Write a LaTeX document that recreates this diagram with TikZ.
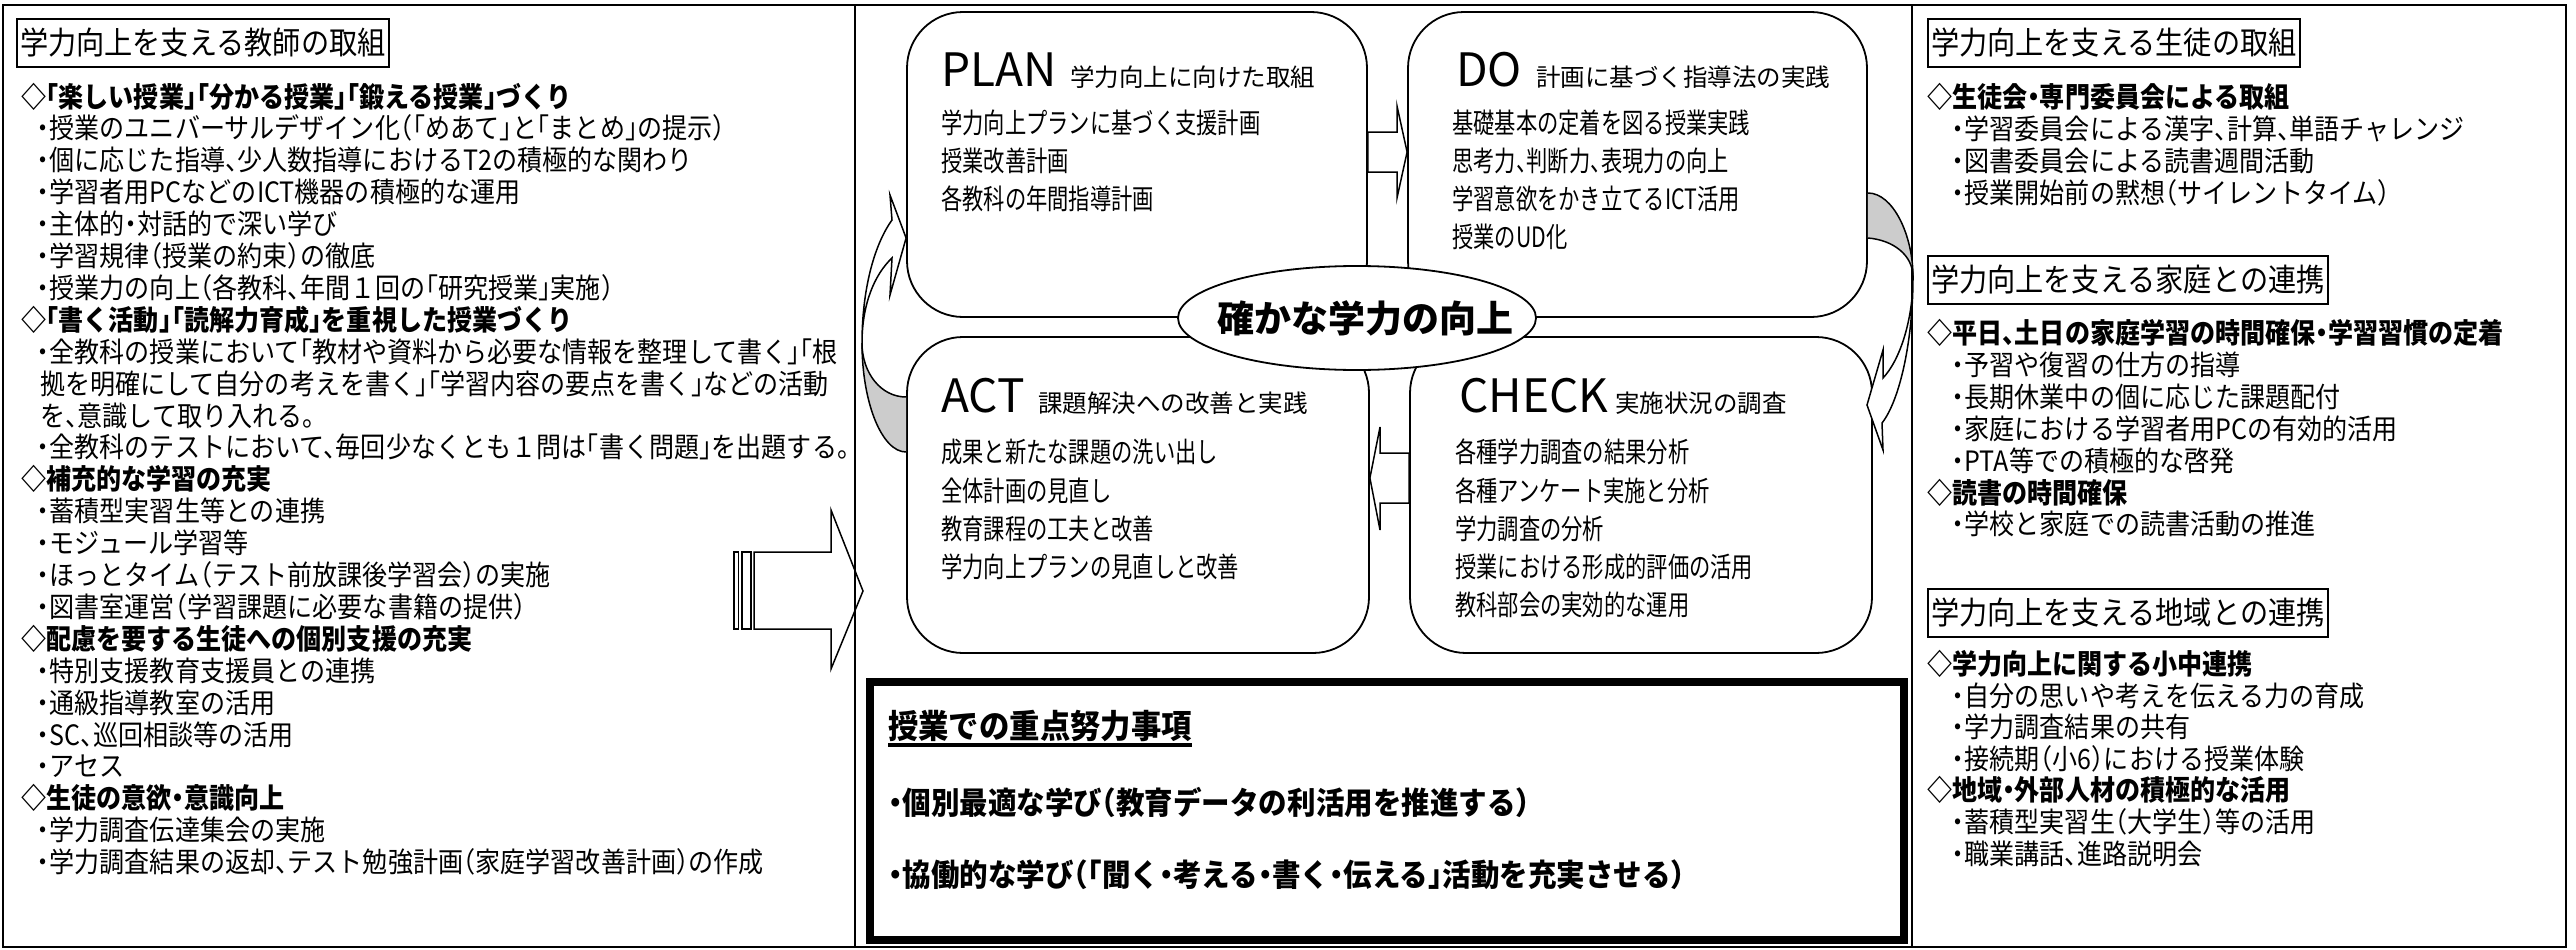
\documentclass[tikz,border=0pt]{standalone}
\usepackage{fontspec}
\setmainfont{Noto Sans CJK JP}[RawFeature=+halt]
\newfontfamily\jpN[FakeStretch=0.895,RawFeature=+halt]{Noto Sans CJK JP}
\newfontfamily\jpC[FakeStretch=0.76,RawFeature=+halt]{Noto Sans CJK JP}
\newfontfamily\jpF[FakeStretch=0.92,RawFeature=+halt]{Noto Sans CJK JP}
\newfontfamily\jpW[RawFeature=+halt]{Noto Sans CJK JP}
\usetikzlibrary{shapes.geometric,calc}
\begin{document}
\begin{tikzpicture}[x=1pt,y=-1pt,
  ltxt/.style={anchor=base west, inner sep=0pt, font=\jpN\fontsize{28}{32}\selectfont},
  btxt/.style={anchor=base west, inner sep=0pt, font=\jpN\bfseries\fontsize{28}{32}\selectfont},
  hd/.style={draw, line width=2pt, anchor=north west, inner xsep=3pt, inner ysep=0pt, minimum height=48pt, font=\jpN\fontsize{31.5}{36}\selectfont},
  pdca/.style={draw, line width=1.8pt, rounded corners=56pt, fill=white, inner sep=0pt},
  ttl/.style={anchor=base west, inner sep=0pt, font=\jpW\fontsize{46}{50}\selectfont},
  subt/.style={anchor=base west, inner sep=0pt, font=\jpW\fontsize{24.5}{30}\selectfont},
  ctxt/.style={anchor=base west, inner sep=0pt, font=\jpC\fontsize{28}{32}\selectfont},
  ftxt/.style={anchor=base west, inner sep=0pt, font=\jpF\bfseries\fontsize{31}{34}\selectfont},
  blk/.style={draw, line width=1.5pt, fill=white, line join=miter},
  crv/.style={draw, line width=1.5pt},
  frame/.style={line width=2.5pt},
]
\useasboundingbox (0,0) rectangle (2576,950);

% big arrow from the left column
\draw[blk] (734,552) rectangle (738.5,629);
\draw[blk] (742,552) rectangle (751,629);
\draw[blk] (754,552) -- (831,552) -- (831,510) -- (863,591) -- (831,669) -- (831,629) -- (754,629) -- cycle;

% frame and dividers
\draw[frame] (3,5) rectangle (2566,947);
\coordinate (d1t) at (855,5);
\coordinate (d1b) at (855,947);
\coordinate (d2t) at (1912,5);
\coordinate (d2b) at (1912,947);
\draw[frame] (d1t) -- (d1b);
\draw[frame] (d2t) -- (d2b);

% PDCA boxes
\node[pdca, minimum width=460pt, minimum height=305pt] (plan) at (1137,164.5) {};
\node[pdca, minimum width=459pt, minimum height=305pt] (do) at (1637.5,164.5) {};
\node[pdca, minimum width=462pt, minimum height=316pt] (act) at (1138,495) {};
\node[pdca, minimum width=462pt, minimum height=316pt] (check) at (1641,495) {};

% focus box
\node[draw, line width=8pt, minimum width=1034pt, minimum height=258pt, inner sep=0pt] (focus) at (1387,811) {};

% central ellipse and its text
\node[ellipse, draw, line width=1.8pt, fill=white, minimum width=358pt, minimum height=104pt, inner sep=0pt] (goal) at (1357,318) {};
\node[inner sep=0pt, font=\jpW\bfseries\fontsize{37}{40}\selectfont] (goalT) at (1365,318) {確かな学力の向上};

% block arrows between boxes
\draw[blk] (plan.east |- 0,132) -- (1397,132) -- (1397,106) -- (do.west |- 0,152) -- (1397,198) -- (1397,172) -- (plan.east |- 0,172) -- cycle;
\draw[blk] (check.west |- 0,453) -- (1380,453) -- (1380,427) -- (act.east |- 0,478) -- (1380,530) -- (1380,503) -- (check.west |- 0,503) -- cycle;

% curved arrow ACT -> PLAN
\fill[gray!40] (862,343) .. controls (862,403) and (882,452) .. (act.west |- 0,452) -- (act.west |- 0,397) .. controls (881,397) and (862,373) .. (862,343) -- cycle;
\draw[crv] (862,343) .. controls (862,403) and (882,452) .. (act.west |- 0,452);
\draw[crv] (862,343) .. controls (862,373) and (881,397) .. (act.west |- 0,397);
\filldraw[blk] (862,343) .. controls (862,290) and (874,245) .. (892,220) -- (890,195) -- (plan.west |- 0,238) -- (890,295) -- (892,258) .. controls (874,275) and (862,305) .. (862,343) -- cycle;

% curved arrow DO -> CHECK
\fill[gray!40] (do.east |- 0,193) .. controls (1893,193) and (1913,235) .. (1913,277) .. controls (1913,255) and (1893,240) .. (do.east |- 0,238) -- cycle;
\draw[crv] (do.east |- 0,193) .. controls (1893,193) and (1913,235) .. (1913,277);
\draw[crv] (1913,277) .. controls (1913,255) and (1893,240) .. (do.east |- 0,238);
\filldraw[blk] (1913,277) .. controls (1913,320) and (1900,360) .. (1883,378) -- (1883,350) -- (1867,405) -- (1883,450) -- (1882,423) .. controls (1900,400) and (1913,340) .. (1913,277) -- cycle;

% PDCA texts
\node[ttl] (planT) at (941,87) {PLAN};
\node[subt] (planS) at (1070,87) {学力向上に向けた取組};
\node[ctxt] (p1) at (941,133) {学力向上プランに基づく支援計画};
\node[ctxt] (p2) at (941,171) {授業改善計画};
\node[ctxt] (p3) at (941,209) {各教科の年間指導計画};

\node[ttl] (doT) at (1456,87) {DO};
\node[subt] (doS) at (1536,87) {計画に基づく指導法の実践};
\node[ctxt] (o1) at (1452,133) {基礎基本の定着を図る授業実践};
\node[ctxt] (o2) at (1452,171) {思考力、判断力、表現力の向上};
\node[ctxt] (o3) at (1452,209) {学習意欲をかき立てるICT活用};
\node[ctxt] (o4) at (1452,247) {授業のUD化};

\node[ttl] (actT) at (941,412) {ACT};
\node[subt] (actS) at (1038,412) {課題解決への改善と実践};
\node[ctxt] (a1) at (941,462) {成果と新たな課題の洗い出し};
\node[ctxt] (a2) at (941,501) {全体計画の見直し};
\node[ctxt] (a3) at (941,539) {教育課程の工夫と改善};
\node[ctxt] (a4) at (941,577) {学力向上プランの見直しと改善};

\node[ttl] (chkT) at (1459,412) {CHECK};
\node[subt] (chkS) at (1615,412) {実施状況の調査};
\node[ctxt] (c1) at (1455,462) {各種学力調査の結果分析};
\node[ctxt] (c2) at (1455,501) {各種アンケート実施と分析};
\node[ctxt] (c3) at (1455,539) {学力調査の分析};
\node[ctxt] (c4) at (1455,577) {授業における形成的評価の活用};
\node[ctxt] (c5) at (1455,615) {教科部会の実効的な運用};

% focus box texts
\node[ftxt, font=\jpF\bfseries\fontsize{33}{36}\selectfont] (fh) at (888,738) {授業での重点努力事項};
\draw[line width=4pt] ([yshift=-3.5pt]fh.south west) -- ([yshift=-3.5pt]fh.south east);
\node[ftxt] (f1) at (888,814) {・個別最適な学び（教育データの利活用を推進する）};
\node[ftxt] (f2) at (888,886) {・協働的な学び（「聞く・考える・書く・伝える」活動を充実させる）};

% left column
\node[hd] (lh) at (16,18) {学力向上を支える教師の取組};
\node[btxt] (L1) at (21,107) {◇「楽しい授業」「分かる授業」「鍛える授業」づくり};
\node[ltxt] (L2) at (37,138.9) {・授業のユニバーサルデザイン化（「めあて」と「まとめ」の提示）};
\node[ltxt] (L3) at (37,170.8) {・個に応じた指導、少人数指導におけるT2の積極的な関わり};
\node[ltxt] (L4) at (37,202.7) {・学習者用PCなどのICT機器の積極的な運用};
\node[ltxt] (L5) at (37,234.6) {・主体的・対話的で深い学び};
\node[ltxt] (L6) at (37,266.5) {・学習規律（授業の約束）の徹底};
\node[ltxt] (L7) at (37,298.4) {・授業力の向上（各教科、年間１回の「研究授業」実施）};
\node[btxt] (L8) at (21,330.3) {◇「書く活動」「読解力育成」を重視した授業づくり};
\node[ltxt] (L9) at (37,362.2) {・全教科の授業において「教材や資料から必要な情報を整理して書く」「根};
\node[ltxt] (L10) at (40,394.1) {拠を明確にして自分の考えを書く」「学習内容の要点を書く」などの活動};
\node[ltxt] (L11) at (40,426.0) {を、意識して取り入れる。};
\node[ltxt] (L12) at (37,457.9) {・全教科のテストにおいて、毎回少なくとも１問は「書く問題」を出題する。};
\node[btxt] (L13) at (21,489.8) {◇補充的な学習の充実};
\node[ltxt] (L14) at (37,521.7) {・蓄積型実習生等との連携};
\node[ltxt] (L15) at (37,553.6) {・モジュール学習等};
\node[ltxt] (L16) at (37,585.5) {・ほっとタイム（テスト前放課後学習会）の実施};
\node[ltxt] (L17) at (37,617.4) {・図書室運営（学習課題に必要な書籍の提供）};
\node[btxt] (L18) at (21,649.3) {◇配慮を要する生徒への個別支援の充実};
\node[ltxt] (L19) at (37,681.2) {・特別支援教育支援員との連携};
\node[ltxt] (L20) at (37,713.1) {・通級指導教室の活用};
\node[ltxt] (L21) at (37,745.0) {・SC、巡回相談等の活用};
\node[ltxt] (L22) at (37,776.9) {・アセス};
\node[btxt] (L23) at (21,808.8) {◇生徒の意欲・意識向上};
\node[ltxt] (L24) at (37,840.7) {・学力調査伝達集会の実施};
\node[ltxt] (L25) at (37,872.6) {・学力調査結果の返却、テスト勉強計画（家庭学習改善計画）の作成};

% right column
\node[hd] (rh1) at (1927,18) {学力向上を支える生徒の取組};
\node[btxt] (R1) at (1927,107) {◇生徒会・専門委員会による取組};
\node[ltxt] (R2) at (1952,139) {・学習委員会による漢字、計算、単語チャレンジ};
\node[ltxt] (R3) at (1952,171) {・図書委員会による読書週間活動};
\node[ltxt] (R4) at (1952,203) {・授業開始前の黙想（サイレントタイム）};
\node[hd] (rh2) at (1927,255) {学力向上を支える家庭との連携};
\node[btxt] (R5) at (1927,343) {◇平日、土日の家庭学習の時間確保・学習習慣の定着};
\node[ltxt] (R6) at (1952,375) {・予習や復習の仕方の指導};
\node[ltxt] (R7) at (1952,407) {・長期休業中の個に応じた課題配付};
\node[ltxt] (R8) at (1952,439) {・家庭における学習者用PCの有効的活用};
\node[ltxt] (R9) at (1952,471) {・PTA等での積極的な啓発};
\node[btxt] (R10) at (1927,503) {◇読書の時間確保};
\node[ltxt] (R11) at (1952,534) {・学校と家庭での読書活動の推進};
\node[hd] (rh3) at (1927,588) {学力向上を支える地域との連携};
\node[btxt] (R12) at (1927,674) {◇学力向上に関する小中連携};
\node[ltxt] (R13) at (1952,706) {・自分の思いや考えを伝える力の育成};
\node[ltxt] (R14) at (1952,737) {・学力調査結果の共有};
\node[ltxt] (R15) at (1952,769) {・接続期（小6）における授業体験};
\node[btxt] (R16) at (1927,800) {◇地域・外部人材の積極的な活用};
\node[ltxt] (R17) at (1952,832) {・蓄積型実習生（大学生）等の活用};
\node[ltxt] (R18) at (1952,864) {・職業講話、進路説明会};
\end{tikzpicture}
\end{document}
